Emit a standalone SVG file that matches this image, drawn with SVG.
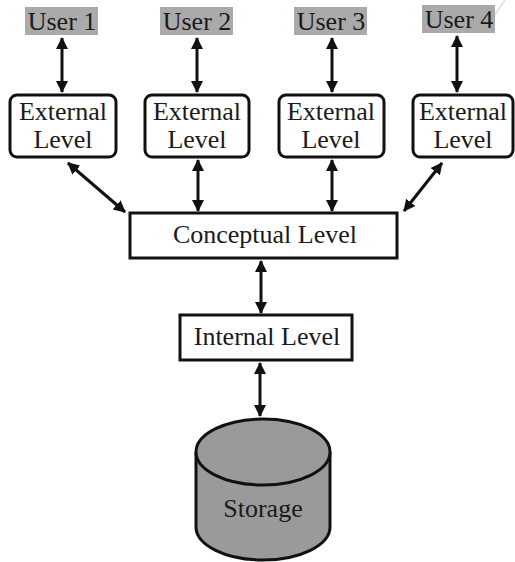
<svg xmlns="http://www.w3.org/2000/svg" width="515" height="562" viewBox="0 0 515 562">
<style>
text{font-size:26px;fill:#1a1a1a;text-anchor:middle}
.box{fill:#fff;stroke:#111;stroke-width:3}
.user{fill:#aaaaaa}
.conn{stroke:#111;stroke-width:3;fill:none;marker-start:url(#ah);marker-end:url(#ah)}
</style>
<defs>
<marker id="ah" viewBox="0 0 12 12" refX="11" refY="6" markerWidth="12" markerHeight="12" markerUnits="userSpaceOnUse" orient="auto-start-reverse">
<path d="M0,0 L12,6 L0,12 Z" fill="#111"/>
</marker>
</defs>
<g font-family="'Liberation Serif', 'DejaVu Serif', serif">
<line x1="490" y1="22" x2="505" y2="0" stroke="#e4e4e4" stroke-width="2"/>
<g id="user1"><rect class="user" x="25" y="7" width="73" height="28"/><text x="62" y="30">User 1</text></g>
<g id="user2"><rect class="user" x="160" y="7" width="73" height="28"/><text x="197" y="30">User 2</text></g>
<g id="user3"><rect class="user" x="294" y="7" width="73" height="28"/><text x="331" y="30">User 3</text></g>
<g id="user4"><rect class="user" x="422" y="5" width="73" height="28"/><text x="459" y="28">User 4</text></g>
<g id="ext1"><rect class="box" x="10" y="95" width="106" height="62" rx="7"/><text x="63" y="120">External</text><text x="63" y="148">Level</text></g>
<g id="ext2"><rect class="box" x="145" y="95" width="104" height="62" rx="7"/><text x="197" y="120">External</text><text x="197" y="148">Level</text></g>
<g id="ext3"><rect class="box" x="279" y="95" width="105" height="62" rx="7"/><text x="331" y="120">External</text><text x="331" y="148">Level</text></g>
<g id="ext4"><rect class="box" x="413" y="95" width="100" height="62" rx="7"/><text x="463" y="120">External</text><text x="463" y="148">Level</text></g>
<g id="conceptual"><rect class="box" x="130" y="213" width="267" height="45"/><text x="265" y="243">Conceptual Level</text></g>
<g id="internal"><rect class="box" x="180" y="315" width="172" height="45"/><text x="267" y="345">Internal Level</text></g>
<g id="storage">
<path d="M196,452 L196,527 A67,33 0 0 0 330,527 L330,452" fill="#9a9a9a" stroke="#111" stroke-width="3"/>
<ellipse cx="263" cy="452" rx="67" ry="33" fill="#9a9a9a" stroke="#111" stroke-width="3"/>
<text x="263" y="517">Storage</text>
</g>
</g>
<g id="connectors">
<line class="conn" x1="62" y1="38" x2="62" y2="92"/>
<line class="conn" x1="197" y1="38" x2="197" y2="92"/>
<line class="conn" x1="332" y1="38" x2="332" y2="92"/>
<line class="conn" x1="457" y1="36" x2="457" y2="92"/>
<line class="conn" x1="68" y1="163" x2="125" y2="212"/>
<line class="conn" x1="198" y1="160" x2="198" y2="211"/>
<line class="conn" x1="332" y1="160" x2="332" y2="211"/>
<line class="conn" x1="442" y1="163" x2="404" y2="211"/>
<line class="conn" x1="261" y1="261" x2="261" y2="313"/>
<line class="conn" x1="260" y1="363" x2="260" y2="416"/>
</g>
</svg>
